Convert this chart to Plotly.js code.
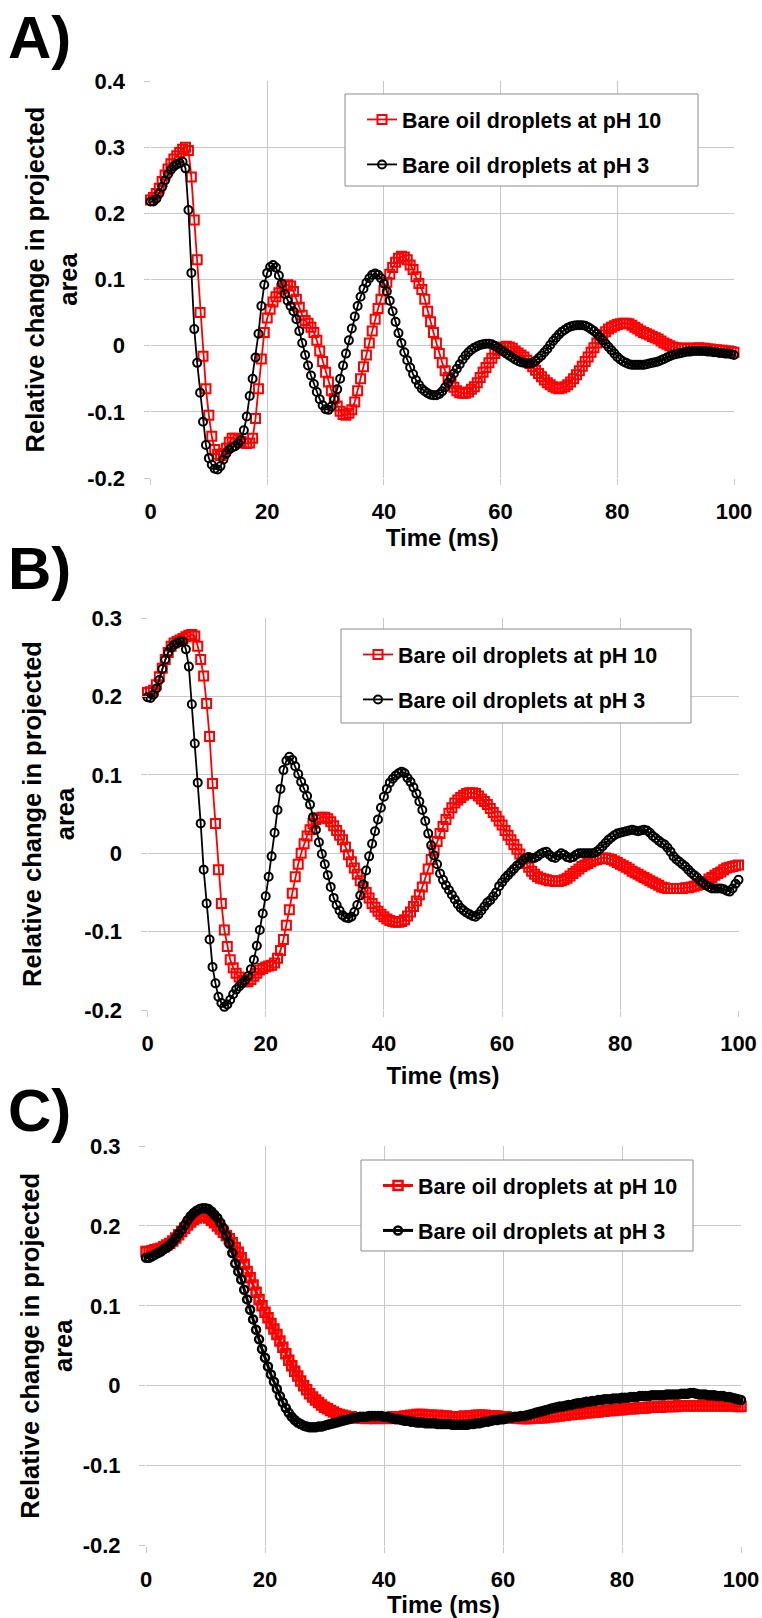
<!DOCTYPE html>
<html>
<head>
<meta charset="utf-8">
<script src="https://cdn.plot.ly/plotly-3.0.1.min.js"></script>
<style>html,body{margin:0;padding:0;background:#fff;}#chart{width:762px;height:1618px;}</style>
</head>
<body>
<div id="chart"></div>
<script>
// Sampling of the time axis (ms): first sample and spacing
const timeStart = 0;
const timeStep = 0.5;

const seriesNames = ['Bare oil droplets at pH 10', 'Bare oil droplets at pH 3'];
const panelLabels = ['A)', 'B)', 'C)'];
const xTickVals = [0, 20, 40, 60, 80, 100];
const xTickText = ['0', '20', '40', '60', '80', '100'];
const yTickValsA = [-0.2, -0.1, 0, 0.1, 0.2, 0.3, 0.4];
const yTickTextA = ['-0.2', '-0.1', '0', '0.1', '0.2', '0.3', '0.4'];
const yTickValsBC = [-0.2, -0.1, 0, 0.1, 0.2, 0.3];
const yTickTextBC = ['-0.2', '-0.1', '0', '0.1', '0.2', '0.3'];
const xTitle = 'Time (ms)';
const yTitle = 'Relative change in projected<br>area';

// Panel A, pH 10 (every 0.5 ms from 0 to 100)
const panelA_pH10 = [
0.220,0.224,0.230,0.238,0.248,0.258,0.267,0.275,0.282,0.287,
0.292,0.297,0.300,0.295,0.255,0.190,0.130,0.050,-0.016,-0.065,
-0.105,-0.137,-0.157,-0.164,-0.166,-0.163,-0.155,-0.146,-0.140,-0.140,
-0.142,-0.145,-0.147,-0.148,-0.147,-0.140,-0.110,-0.065,-0.020,0.020,
0.042,0.055,0.066,0.074,0.080,0.086,0.090,0.092,0.090,0.082,
0.070,0.058,0.046,0.038,0.034,0.028,0.020,0.008,-0.008,-0.024,
-0.040,-0.055,-0.068,-0.080,-0.091,-0.099,-0.104,-0.105,-0.102,-0.097,
-0.085,-0.068,-0.050,-0.032,-0.014,0.004,0.022,0.040,0.056,0.070,
0.083,0.096,0.108,0.118,0.126,0.132,0.135,0.134,0.130,0.122,
0.115,0.104,0.094,0.085,0.070,0.052,0.036,0.020,0.004,-0.012,
-0.026,-0.038,-0.048,-0.057,-0.063,-0.068,-0.071,-0.072,-0.072,-0.070,
-0.066,-0.062,-0.056,-0.048,-0.040,-0.033,-0.026,-0.019,-0.012,-0.007,
-0.004,-0.002,-0.001,-0.002,-0.004,-0.008,-0.011,-0.014,-0.017,-0.022,
-0.027,-0.032,-0.037,-0.042,-0.047,-0.052,-0.056,-0.059,-0.062,-0.064,
-0.065,-0.064,-0.062,-0.059,-0.055,-0.050,-0.044,-0.038,-0.031,-0.024,
-0.017,-0.010,-0.003,0.004,0.010,0.016,0.021,0.025,0.028,0.030,
0.032,0.033,0.034,0.034,0.033,0.031,0.028,0.025,0.022,0.020,
0.018,0.016,0.014,0.012,0.010,0.007,0.004,0.002,0.000,-0.002,
-0.003,-0.004,-0.004,-0.004,-0.004,-0.004,-0.004,-0.004,-0.003,-0.004,
-0.004,-0.005,-0.005,-0.006,-0.006,-0.007,-0.007,-0.008,-0.008,-0.009,
-0.010];

// Panel A, pH 3
const panelA_pH3 = [
0.218,0.218,0.222,0.230,0.240,0.250,0.259,0.266,0.271,0.274,
0.276,0.278,0.268,0.205,0.110,0.025,-0.026,-0.071,-0.115,-0.150,
-0.170,-0.180,-0.186,-0.187,-0.182,-0.172,-0.163,-0.157,-0.154,-0.152,
-0.148,-0.143,-0.128,-0.107,-0.076,-0.050,-0.018,0.018,0.060,0.092,
0.110,0.119,0.122,0.118,0.106,0.094,0.078,0.068,0.060,0.052,
0.040,0.022,0.004,-0.014,-0.030,-0.045,-0.058,-0.070,-0.081,-0.090,
-0.096,-0.097,-0.092,-0.081,-0.066,-0.050,-0.030,-0.012,0.008,0.026,
0.044,0.060,0.074,0.086,0.095,0.102,0.107,0.109,0.107,0.102,
0.094,0.082,0.068,0.052,0.036,0.019,0.004,-0.010,-0.022,-0.033,
-0.043,-0.052,-0.059,-0.065,-0.069,-0.072,-0.074,-0.075,-0.075,-0.073,
-0.069,-0.063,-0.056,-0.049,-0.042,-0.035,-0.028,-0.021,-0.015,-0.010,
-0.006,-0.003,-0.001,0.001,0.002,0.003,0.003,0.002,0.000,-0.003,
-0.006,-0.009,-0.012,-0.015,-0.018,-0.021,-0.023,-0.025,-0.026,-0.027,
-0.027,-0.026,-0.023,-0.019,-0.015,-0.010,-0.005,0.001,0.007,0.012,
0.017,0.021,0.024,0.027,0.029,0.030,0.031,0.031,0.031,0.030,
0.028,0.025,0.022,0.018,0.013,0.008,0.003,-0.002,-0.007,-0.012,
-0.017,-0.021,-0.024,-0.026,-0.028,-0.029,-0.029,-0.029,-0.029,-0.029,
-0.028,-0.027,-0.026,-0.025,-0.024,-0.022,-0.020,-0.018,-0.016,-0.014,
-0.013,-0.012,-0.011,-0.010,-0.009,-0.009,-0.008,-0.008,-0.008,-0.008,
-0.008,-0.009,-0.009,-0.010,-0.010,-0.011,-0.011,-0.012,-0.012,-0.013,
-0.014];

// Panel B, pH 10
const panelB_pH10 = [
0.205,0.206,0.208,0.215,0.225,0.236,0.247,0.256,0.264,0.268,
0.270,0.272,0.274,0.276,0.278,0.279,0.277,0.264,0.247,0.226,
0.191,0.149,0.089,0.038,-0.021,-0.064,-0.098,-0.119,-0.136,-0.146,
-0.153,-0.158,-0.162,-0.164,-0.164,-0.161,-0.157,-0.153,-0.149,-0.147,
-0.145,-0.144,-0.143,-0.140,-0.134,-0.124,-0.110,-0.092,-0.072,-0.051,
-0.030,-0.014,0.000,0.012,0.022,0.030,0.038,0.043,0.045,0.046,
0.046,0.044,0.040,0.035,0.029,0.023,0.017,0.008,-0.002,-0.011,
-0.019,-0.027,-0.035,-0.043,-0.050,-0.057,-0.064,-0.069,-0.074,-0.078,
-0.081,-0.084,-0.086,-0.087,-0.088,-0.088,-0.087,-0.085,-0.080,-0.075,
-0.068,-0.061,-0.053,-0.043,-0.032,-0.020,-0.008,0.004,0.015,0.025,
0.034,0.043,0.051,0.058,0.064,0.068,0.071,0.074,0.076,0.077,
0.077,0.076,0.073,0.069,0.066,0.062,0.057,0.052,0.047,0.041,
0.036,0.029,0.023,0.017,0.011,0.005,-0.001,-0.007,-0.013,-0.018,
-0.023,-0.027,-0.030,-0.032,-0.033,-0.034,-0.035,-0.035,-0.036,-0.036,
-0.035,-0.034,-0.032,-0.029,-0.026,-0.023,-0.020,-0.017,-0.015,-0.013,
-0.011,-0.009,-0.008,-0.007,-0.006,-0.006,-0.007,-0.008,-0.010,-0.012,
-0.014,-0.016,-0.018,-0.020,-0.023,-0.025,-0.027,-0.029,-0.031,-0.033,
-0.035,-0.037,-0.039,-0.041,-0.043,-0.044,-0.045,-0.045,-0.045,-0.045,
-0.045,-0.045,-0.044,-0.044,-0.043,-0.042,-0.041,-0.040,-0.038,-0.036,
-0.033,-0.031,-0.028,-0.026,-0.024,-0.021,-0.019,-0.018,-0.017,-0.016,
-0.015];

// Panel B, pH 3
const panelB_pH3 = [
0.199,0.198,0.202,0.210,0.221,0.235,0.247,0.256,0.262,0.266,
0.268,0.270,0.270,0.260,0.238,0.190,0.140,0.090,0.038,-0.021,
-0.064,-0.110,-0.145,-0.166,-0.183,-0.191,-0.196,-0.193,-0.187,-0.180,
-0.174,-0.170,-0.166,-0.162,-0.157,-0.148,-0.136,-0.118,-0.098,-0.077,
-0.055,-0.030,-0.004,0.026,0.055,0.082,0.106,0.118,0.123,0.119,
0.111,0.101,0.091,0.083,0.073,0.062,0.046,0.030,0.014,-0.001,
-0.014,-0.028,-0.043,-0.057,-0.066,-0.073,-0.079,-0.082,-0.083,-0.081,
-0.075,-0.066,-0.054,-0.040,-0.022,-0.004,0.012,0.028,0.043,0.058,
0.072,0.082,0.090,0.095,0.099,0.102,0.104,0.102,0.096,0.091,
0.084,0.076,0.066,0.055,0.041,0.025,0.010,-0.003,-0.014,-0.026,
-0.034,-0.041,-0.047,-0.053,-0.059,-0.065,-0.070,-0.073,-0.076,-0.078,
-0.080,-0.081,-0.078,-0.073,-0.068,-0.063,-0.060,-0.055,-0.050,-0.042,
-0.037,-0.032,-0.028,-0.024,-0.020,-0.016,-0.013,-0.009,-0.006,-0.005,
-0.006,-0.006,-0.004,-0.001,0.001,0.002,-0.002,-0.005,-0.006,-0.003,
0.000,-0.002,-0.005,-0.006,-0.005,-0.002,0.000,0.000,0.000,0.000,
0.000,0.000,0.002,0.005,0.009,0.013,0.017,0.020,0.023,0.025,
0.026,0.027,0.028,0.029,0.030,0.029,0.028,0.029,0.030,0.029,
0.026,0.022,0.019,0.016,0.013,0.011,0.007,0.002,-0.004,-0.008,
-0.011,-0.014,-0.017,-0.021,-0.025,-0.028,-0.031,-0.035,-0.038,-0.041,
-0.043,-0.045,-0.045,-0.045,-0.045,-0.046,-0.048,-0.049,-0.045,-0.039,
-0.034];

// Panel C, pH 10
const panelC_pH10 = [
0.168,0.168,0.169,0.170,0.171,0.172,0.174,0.176,0.178,0.181,
0.185,0.189,0.193,0.197,0.201,0.205,0.208,0.210,0.212,0.213,
0.212,0.210,0.207,0.204,0.200,0.196,0.192,0.188,0.184,0.179,
0.173,0.167,0.160,0.152,0.143,0.135,0.126,0.117,0.108,0.100,
0.092,0.085,0.078,0.071,0.064,0.056,0.048,0.040,0.032,0.025,
0.018,0.012,0.006,0.000,-0.005,-0.010,-0.014,-0.018,-0.021,-0.024,
-0.027,-0.029,-0.031,-0.033,-0.035,-0.036,-0.037,-0.038,-0.039,-0.039,
-0.040,-0.040,-0.040,-0.040,-0.041,-0.040,-0.040,-0.041,-0.040,-0.040,
-0.040,-0.041,-0.040,-0.039,-0.040,-0.039,-0.039,-0.038,-0.038,-0.037,
-0.037,-0.036,-0.036,-0.036,-0.037,-0.037,-0.037,-0.038,-0.037,-0.038,
-0.038,-0.038,-0.039,-0.039,-0.039,-0.039,-0.039,-0.038,-0.039,-0.038,
-0.038,-0.037,-0.037,-0.037,-0.037,-0.038,-0.038,-0.038,-0.038,-0.039,
-0.039,-0.039,-0.040,-0.040,-0.040,-0.040,-0.041,-0.041,-0.041,-0.041,
-0.040,-0.040,-0.040,-0.040,-0.040,-0.039,-0.039,-0.039,-0.038,-0.038,
-0.037,-0.037,-0.036,-0.036,-0.035,-0.035,-0.035,-0.034,-0.034,-0.034,
-0.033,-0.033,-0.033,-0.032,-0.032,-0.031,-0.031,-0.031,-0.030,-0.030,
-0.030,-0.029,-0.029,-0.029,-0.029,-0.028,-0.028,-0.028,-0.028,-0.027,
-0.027,-0.027,-0.027,-0.027,-0.026,-0.026,-0.026,-0.026,-0.026,-0.025,
-0.025,-0.025,-0.025,-0.025,-0.025,-0.025,-0.025,-0.025,-0.025,-0.025,
-0.025,-0.025,-0.025,-0.025,-0.025,-0.025,-0.025,-0.025,-0.025,-0.026,
-0.026];

// Panel C, pH 3
const panelC_pH3 = [
0.160,0.160,0.162,0.164,0.166,0.168,0.171,0.173,0.176,0.180,
0.185,0.190,0.195,0.201,0.207,0.212,0.216,0.219,0.221,0.222,
0.222,0.221,0.218,0.214,0.210,0.204,0.197,0.188,0.178,0.166,
0.153,0.143,0.133,0.120,0.108,0.095,0.083,0.070,0.058,0.046,
0.035,0.024,0.014,0.005,-0.004,-0.013,-0.021,-0.028,-0.034,-0.039,
-0.043,-0.046,-0.048,-0.050,-0.051,-0.052,-0.052,-0.052,-0.051,-0.051,
-0.050,-0.049,-0.048,-0.047,-0.046,-0.045,-0.044,-0.043,-0.042,-0.041,
-0.040,-0.040,-0.039,-0.039,-0.039,-0.038,-0.038,-0.038,-0.038,-0.038,
-0.039,-0.039,-0.040,-0.041,-0.042,-0.042,-0.043,-0.044,-0.044,-0.045,
-0.045,-0.046,-0.046,-0.046,-0.047,-0.047,-0.047,-0.047,-0.048,-0.048,
-0.048,-0.048,-0.048,-0.049,-0.049,-0.049,-0.049,-0.049,-0.049,-0.048,
-0.048,-0.047,-0.047,-0.046,-0.045,-0.045,-0.044,-0.043,-0.043,-0.042,
-0.042,-0.041,-0.040,-0.040,-0.039,-0.039,-0.038,-0.038,-0.037,-0.036,
-0.035,-0.034,-0.033,-0.032,-0.031,-0.030,-0.029,-0.028,-0.027,-0.026,
-0.026,-0.025,-0.024,-0.024,-0.023,-0.022,-0.022,-0.021,-0.020,-0.020,
-0.019,-0.019,-0.018,-0.018,-0.017,-0.017,-0.017,-0.016,-0.016,-0.016,
-0.015,-0.015,-0.015,-0.014,-0.014,-0.014,-0.013,-0.013,-0.013,-0.013,
-0.012,-0.012,-0.012,-0.012,-0.012,-0.011,-0.011,-0.011,-0.011,-0.011,
-0.010,-0.010,-0.010,-0.009,-0.009,-0.010,-0.011,-0.011,-0.011,-0.012,
-0.012,-0.012,-0.013,-0.013,-0.013,-0.014,-0.014,-0.015,-0.016,-0.017,
-0.018];

// ---------- styling ----------
const W = 762, H = 1618;
const FONT = "'Liberation Sans', Arial, sans-serif";
const NARROW = "'Liberation Sans Narrow', 'Liberation Sans', Arial, sans-serif";
const RED = '#ff0000', BLACK = '#000000', GRID = '#c8c8c8';
const px = v => v / W;
const py = v => 1 - v / H;
const bold = (size, fam) => ({family: fam || FONT, size: size, color: '#000', weight: 'bold'});

// plot areas in pixels: [left, right, top, bottom]
const boxes = [
  [150.5, 734, 81, 478],
  [147.5, 738.5, 618, 1010],
  [146, 741, 1146, 1545.5]
];
const legendBoxes = [
  [345, 698, 94, 186],
  [341, 691, 629, 723],
  [361, 693, 1160, 1251]
];
const labelY = [37, 568, 1110];
const xTitleStandoff = [4, 11, 3];

const allData = [
  [panelA_pH10, panelA_pH3],
  [panelB_pH10, panelB_pH3],
  [panelC_pH10, panelC_pH3]
];

const traces = [];
const layout = {
  width: W, height: H,
  margin: {l: 0, r: 0, t: 0, b: 0},
  paper_bgcolor: '#ffffff',
  plot_bgcolor: 'rgba(0,0,0,0)',
  font: {family: FONT, color: '#000'},
  showlegend: true,
  shapes: [],
  annotations: []
};

for (let p = 0; p < 3; p++) {
  const sfx = p === 0 ? '' : String(p + 1);
  const xa = 'x' + sfx, ya = 'y' + sfx;
  const legName = 'legend' + sfx;
  const small = p === 2;
  // red (pH 10)
  traces.push({
    type: 'scatter', mode: 'lines+markers',
    x0: timeStart, dx: timeStep, y: allData[p][0],
    xaxis: xa, yaxis: ya, cliponaxis: false,
    name: seriesNames[0], legend: legName, legendgroup: 'g' + p + 'a',
    line: {color: RED, width: small ? 3 : 1.8},
    marker: {symbol: 'square-open', size: 9, color: RED, line: {color: RED, width: small ? 2.5 : 2}}
  });
  // black (pH 3)
  traces.push({
    type: 'scatter', mode: 'lines+markers',
    x0: timeStart, dx: timeStep, y: allData[p][1],
    xaxis: xa, yaxis: ya, cliponaxis: false,
    name: seriesNames[1], legend: legName, legendgroup: 'g' + p + 'b',
    line: {color: BLACK, width: small ? 3 : 1.8},
    marker: {symbol: 'circle-open', size: 8, color: BLACK, line: {color: BLACK, width: small ? 2.5 : 2}}
  });

  const b = boxes[p];
  layout['xaxis' + sfx] = {
    domain: [px(b[0]), px(b[1])], anchor: ya, range: [0, 100],
    tickvals: xTickVals, ticktext: xTickText,
    showgrid: true, gridcolor: GRID, gridwidth: 1, zeroline: false, showline: false,
    ticks: 'outside', ticklen: 6, tickcolor: GRID, tickwidth: 1,
    ticklabelstandoff: 8,
    tickfont: bold(22),
    title: {text: xTitle, font: bold(24), standoff: xTitleStandoff[p]},
    fixedrange: true
  };
  layout['yaxis' + sfx] = {
    domain: [py(b[3]), py(b[2])], anchor: xa,
    range: p === 0 ? [-0.2, 0.4] : [-0.2, 0.3],
    tickvals: p === 0 ? yTickValsA : yTickValsBC,
    ticktext: p === 0 ? yTickTextA : yTickTextBC,
    showgrid: true, gridcolor: GRID, gridwidth: 1, zeroline: false, showline: false,
    ticks: 'outside', ticklen: 6, tickcolor: GRID, tickwidth: 1,
    ticklabelstandoff: 14,
    tickfont: bold(22),
    title: {text: yTitle, font: bold(25.5), standoff: 2},
    fixedrange: true
  };

  const lb = legendBoxes[p];
  layout.shapes.push({
    type: 'rect', xref: 'paper', yref: 'paper', layer: 'above',
    x0: px(lb[0]), x1: px(lb[1]), y0: py(lb[3]), y1: py(lb[2]),
    line: {color: '#8c8c8c', width: 1}, fillcolor: '#ffffff'
  });
  layout[legName] = {
    x: px(lb[0] + 17), y: py(lb[2] + 5), xanchor: 'left', yanchor: 'top',
    bgcolor: 'rgba(0,0,0,0)', borderwidth: 0,
    font: bold(21.5),
    traceorder: 'grouped', tracegroupgap: 14, itemwidth: 30
  };

  layout.annotations.push({
    text: panelLabels[p], xref: 'paper', yref: 'paper',
    x: px(6), y: py(labelY[p]), xanchor: 'left', yanchor: 'middle',
    showarrow: false, font: bold(60, NARROW)
  });
}

Plotly.newPlot('chart', traces, layout, {staticPlot: true, displayModeBar: false});
</script>
</body>
</html>
